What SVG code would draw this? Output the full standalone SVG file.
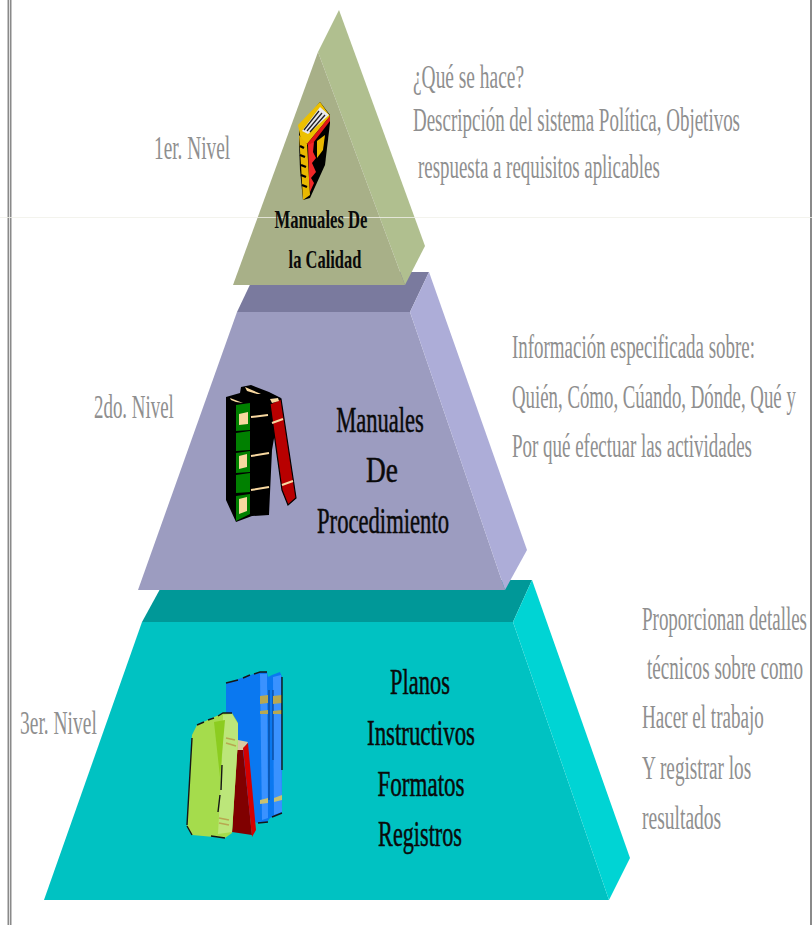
<svg xmlns="http://www.w3.org/2000/svg" width="812" height="925" viewBox="0 0 812 925">
<style>
text{font-family:"Liberation Serif","Times New Roman",serif}
.g{fill:#8f8f8f;font-size:33px}
.b{fill:#0a0a0a;font-size:35px;stroke:#0a0a0a;stroke-width:.5;text-anchor:middle}
.s{fill:#0a0a0a;font-size:25px;font-weight:bold;text-anchor:middle}
</style>
<rect width="812" height="925" fill="#fff"/>
<g id="frame">
<rect x="7.5" y="0" width="4" height="925" fill="#8a8a8a"/>
<rect x="9" y="0" width="1" height="925" fill="#e0e0e0"/>
<rect x="810" y="0" width="2" height="925" fill="#8a8a8a"/>
</g>
<g id="nivel3">
<polygon points="142,622 513,622 532,580 165,580" fill="#009898"/>
<polygon points="142,622 513,622 609,900 44,900" fill="#00c2c2"/>
<polygon points="532,580 630,858 609,900 513,622" fill="#00d4d4"/>
<g id="books3">
<polygon points="226,683 260,672 267,672 268,677 272,675 280,672 282,677 282,813 270,818 267,822 257,823 226,800" fill="#0a78f0"/>
<polygon points="260,674 267,674 268,818 262,820" fill="#3a92ff"/>
<polygon points="273,677 281,675 282,812 274,815" fill="#3a92ff"/>
<path d="M269,690 V800 M273,690 V760" stroke="#0a3a80" stroke-width="1" fill="none"/>
<polygon points="260,696 268,695 268,703 260,704" fill="#b8a850"/>
<polygon points="273,696 282,695 282,703 273,704" fill="#b8a850"/>
<polygon points="260,711 268,710 268,714 260,714" fill="#b8a850"/>
<polygon points="273,711 282,710 282,714 273,714" fill="#b8a850"/>
<polygon points="260,800 268,798 268,803 260,804" fill="#c8c070"/>
<polygon points="274,798 282,795 282,800 274,802" fill="#c8c070"/>
<polygon points="238,740 248,742 243,750 236,750" fill="#d8c8a0"/>
<polygon points="236,750 243,750 252,835 232,832" fill="#800000"/>
<polygon points="243,748 248,743 256,830 252,837" fill="#d40000"/>
<polygon points="192,735 197,725 223,713 232,713 238,723 238,740 232,833 225,838 192,835 187,827" fill="#a5dc4c"/>
<polygon points="223,715 232,714 238,724 238,740 232,832 218,834 222,760" fill="#bce67a"/>
<polygon points="214,722 225,720 220,777" fill="#8ccc20"/>
<path d="M197,725 L204,722 M208,720 L214,718 M218,716 L223,713 L232,713 M226,683 L238,680 M243,678 L250,675 M254,674 L260,672 L267,672 M192,738 L187,825 M222,765 L221,790 M220,795 L218,812 M211,836 L225,838 M258,823 L268,822 M272,817 L282,813 M282,677 V770 M187,826 L192,835" fill="none" stroke="#161616" stroke-width="1.4"/>
<path d="M226,738 L235,740 M226,743 L236,746 M219,818 L229,820 M219,823 L229,825" stroke="#b8a850" stroke-width="1.6" fill="none"/>
</g>
</g>
<g id="nivel2">
<polygon points="237,312 410,312 429,272 256,272" fill="#7a7a9e"/>
<polygon points="237,312 410,312 505,590 138,590" fill="#9c9cc0"/>
<polygon points="429,272 527,550 505,590 410,312" fill="#adadd8"/>
<g id="books2">
<polygon points="226,397 240,393 241,387 251,385 269,392 281,398 272,450 269,515 252,516 236,522 226,500" fill="#000"/>
<polygon points="236,405 250,403 250,430 236,431" fill="#008000"/>
<polygon points="236,433 250,431 250,450 236,451" fill="#008000"/>
<polygon points="236,453 250,451 250,472 236,473" fill="#008000"/>
<polygon points="236,475 250,473 250,492 236,493" fill="#008000"/>
<polygon points="236,496 250,494 250,514 236,521" fill="#008000"/>
<polygon points="239,414 248,412 248,424 239,425" fill="#f8d8a0"/>
<polygon points="239,456 247,454 247,467 239,469" fill="#f8d8a0"/>
<polygon points="239,499 247,497 247,511 239,514" fill="#f8d8a0"/>
<polygon points="270,404 281,399 296,498 288,505 282,490" fill="#b80000" stroke="#000" stroke-width="1.2"/>
<path d="M251,417 L268,415 M251,456 L269,453 M251,490 L269,487 M272,423 L283,419 M282,485 L293,481" stroke="#f8d8a0" stroke-width="2"/>
<polygon points="230,398 243,403 236,402 231,400" fill="#f8d8a0"/>
<polygon points="245,387 261,394 257,394 247,391" fill="#f8d8a0"/>
<polygon points="270,399 278,398 279,401 272,403" fill="#f8d8a0"/>
</g>
</g>
<g id="nivel1">
<polygon points="339,10 425,246 405,285 318,52" fill="#b0bf8f"/>
<polygon points="318,52 405,285 233,285" fill="#a8b088"/>
<g id="book1">
<polygon points="299,127 320,102 330,115 330,123 325,165 310,198 303,200 300,170 299,143" fill="#000"/>
<polygon points="298,125 320,102 330,116 307,144 301,140" fill="#ecc000"/>
<polygon points="302,131 320,107 329,115 308,134" fill="#e8e8f0"/>
<path d="M304,130 L319,111 M307,131 L322,113 M310,132 L325,115" stroke="#222" stroke-width="1.3"/>
<polygon points="307,144 330,116 330,121 310,147" fill="#e01818"/>
<polygon points="299,135 307,144 310,195 303,200 301,165" fill="#e8b800"/>
<path d="M300,146 L304,148 M300,155 L305,157 M301,165 L306,167 M301,175 L306,177 M302,185 L307,187" stroke="#000" stroke-width="2.4"/>
<polygon points="308,145 314,142 313,152 316,158 312,163 316,172 311,178 314,183 310,192 309,178" fill="#f02828"/>
<polygon points="317,141 325,135 323,150 317,158" fill="#e8b800"/>
</g>
</g>
<g id="linea"><rect x="0" y="217" width="812" height="1" fill="#f0f0e8" fill-opacity=".8"/></g>
<g id="etiquetas">
<text class="s" transform="translate(321,228) scale(.65,1)" textLength="143" lengthAdjust="spacingAndGlyphs">Manuales De</text>
<text class="s" transform="translate(325,268) scale(.65,1)" textLength="112" lengthAdjust="spacingAndGlyphs">la Calidad</text>
<text class="b" transform="translate(380,432) scale(.65,1)" textLength="135" lengthAdjust="spacingAndGlyphs">Manuales</text>
<text class="b" transform="translate(382,482) scale(.65,1)" textLength="49" lengthAdjust="spacingAndGlyphs">De</text>
<text class="b" transform="translate(383,533) scale(.65,1)" textLength="203" lengthAdjust="spacingAndGlyphs">Procedimiento</text>
<text class="b" transform="translate(420,694) scale(.65,1)" textLength="92" lengthAdjust="spacingAndGlyphs">Planos</text>
<text class="b" transform="translate(421,745) scale(.65,1)" textLength="166" lengthAdjust="spacingAndGlyphs">Instructivos</text>
<text class="b" transform="translate(421,796) scale(.65,1)" textLength="134" lengthAdjust="spacingAndGlyphs">Formatos</text>
<text class="b" transform="translate(420,846) scale(.65,1)" textLength="129" lengthAdjust="spacingAndGlyphs">Registros</text>
<text class="g" transform="translate(154,159) scale(.6,1)" textLength="127" lengthAdjust="spacingAndGlyphs">1er. Nivel</text>
<text class="g" transform="translate(94,418) scale(.6,1)" textLength="133" lengthAdjust="spacingAndGlyphs">2do. Nivel</text>
<text class="g" transform="translate(20,734) scale(.6,1)" textLength="128" lengthAdjust="spacingAndGlyphs">3er. Nivel</text>
<text class="g" transform="translate(413,88) scale(.6,1)" textLength="185" lengthAdjust="spacingAndGlyphs">¿Qué se hace?</text>
<text class="g" transform="translate(413,131) scale(.6,1)" textLength="545" lengthAdjust="spacingAndGlyphs">Descripción del sistema Política, Objetivos</text>
<text class="g" transform="translate(418,178) scale(.6,1)" textLength="403" lengthAdjust="spacingAndGlyphs">respuesta a requisitos aplicables</text>
<text class="g" transform="translate(512,358) scale(.6,1)" textLength="405" lengthAdjust="spacingAndGlyphs">Información especificada sobre:</text>
<text class="g" transform="translate(512,408) scale(.6,1)" textLength="473" lengthAdjust="spacingAndGlyphs">Quién, Cómo, Cúando, Dónde, Qué y</text>
<text class="g" transform="translate(512,457) scale(.6,1)" textLength="400" lengthAdjust="spacingAndGlyphs">Por qué efectuar las actividades</text>
<text class="g" transform="translate(642,630) scale(.55,1)" textLength="300" lengthAdjust="spacingAndGlyphs">Proporcionan detalles</text>
<text class="g" transform="translate(647,679) scale(.6,1)" textLength="260" lengthAdjust="spacingAndGlyphs">técnicos sobre como</text>
<text class="g" transform="translate(642,728) scale(.6,1)" textLength="203" lengthAdjust="spacingAndGlyphs">Hacer el trabajo</text>
<text class="g" transform="translate(642,779) scale(.6,1)" textLength="182" lengthAdjust="spacingAndGlyphs">Y registrar los</text>
<text class="g" transform="translate(642,829) scale(.6,1)" textLength="132" lengthAdjust="spacingAndGlyphs">resultados</text>
</g>
</svg>
